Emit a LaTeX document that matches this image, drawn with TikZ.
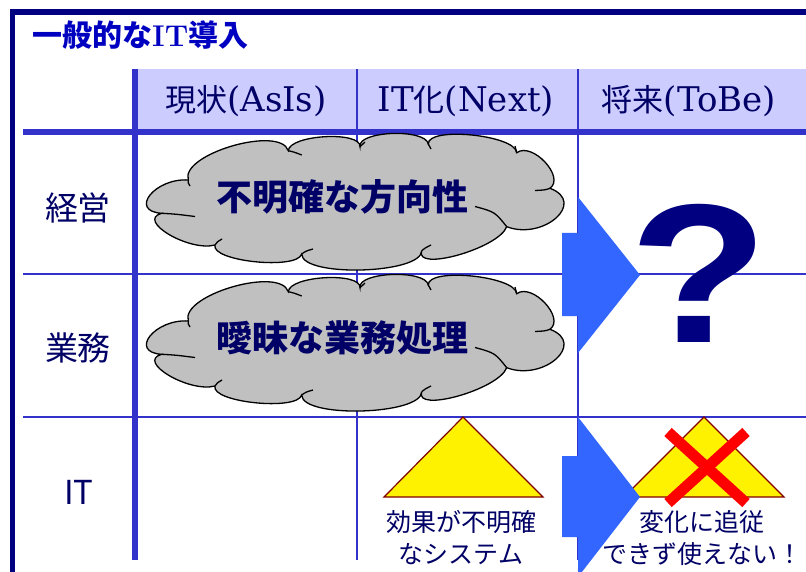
\documentclass[tikz,border=0pt]{standalone}
\usepackage{fontspec}
\setmainfont{Latin Modern Roman}
\newfontfamily\cjk{Noto Sans CJK JP}
\newfontfamily\arialb{Liberation Sans}
\newfontfamily\wideserif{DejaVu Serif}
\definecolor{frameblue}{HTML}{000080}
\definecolor{gridblue}{HTML}{3333CC}
\definecolor{headfill}{HTML}{CCCCFF}
\definecolor{titleblue}{HTML}{0000C0}
\definecolor{navytext}{HTML}{000066}
\definecolor{arrowblue}{HTML}{3366FF}
\definecolor{clouddark}{HTML}{C0C0C0}
\definecolor{tribord}{HTML}{800000}
\newcommand\hcjk[1]{{\cjk\fontsize{31}{34}\selectfont #1}}
\tikzset{
  thickgrid/.style={draw=gridblue, line width=5.5pt},
  thingrid/.style={draw=gridblue, line width=2pt},
  headtext/.style={text=navytext, font=\wideserif\fontsize{34}{36}\selectfont, inner sep=0pt},
  rowtext/.style={text=navytext, font=\cjk\fontsize{33}{36}\selectfont, inner sep=0pt},
  cloudline/.style={draw=black, line width=1.3pt, fill=clouddark},
  cloudtail/.style={draw=black, line width=1.3pt},
  cloudtext/.style={text=navytext, font=\cjk\bfseries\fontsize{36}{38}\selectfont, inner sep=0pt},
  bigarrow/.style={fill=arrowblue, draw=none},
  pyramid/.style={fill=yellow, draw=tribord, line width=1.2pt, line join=miter},
  smalltext/.style={text=navytext, font=\cjk\fontsize{25}{32}\selectfont, align=center, inner sep=0pt},
  cross/.style={draw=red, line width=11pt}
}
\def\mycloudshape{%
  \draw[cloudline] (188.3,180)
    .. controls (179.9,154.2) and (279.9,124.9) .. (288.3,150.7)
    .. controls (289.4,134.7) and (361.1,130.7) .. (360,146.7)
    .. controls (357.1,130.9) and (425.4,128.2) .. (428.3,144)
    .. controls (427.2,126.2) and (515.6,134.9) .. (516.7,152.7)
    .. controls (532.2,141.4) and (565.5,177) .. (550,188.3)
    .. controls (586.9,202.3) and (543.6,240.7) .. (506.7,226.7)
    .. controls (498.8,248.4) and (413.8,272.4) .. (421.7,250.7)
    .. controls (421.7,274.2) and (301.7,277.5) .. (301.7,254)
    .. controls (297.2,270.3) and (210.5,261.3) .. (215,245)
    .. controls (189,252) and (135.7,220.3) .. (161.7,213.3)
    .. controls (128.4,211.1) and (155,177.8) .. (188.3,180) -- cycle;
  \draw[cloudtail] (161.7,213.3) .. controls (175,214) .. (195,216.5);
  \draw[cloudtail] (215,245) .. controls (217,242) .. (222,239);
  \draw[cloudtail] (301.7,254) .. controls (306,251) .. (313,249);
  \draw[cloudtail] (421.7,250.7) .. controls (425,248) .. (431,245);
  \draw[cloudtail] (506.7,226.7) .. controls (495,212) .. (475,206.5);
  \draw[cloudtail] (550,188.3) .. controls (545,190) .. (535,190.5);
  \draw[cloudtail] (516.7,152.7) .. controls (516.5,149) .. (515,146);
  \draw[cloudtail] (428.3,144) .. controls (429.5,147) .. (431,149);
  \draw[cloudtail] (360,146.7) .. controls (362,144) .. (365,142);
  \draw[cloudtail] (288.3,150.7) .. controls (294,152) .. (301.7,155);
  \draw[cloudtail] (188.3,180) .. controls (188,183) .. (190,186);
}
\begin{document}
\begin{tikzpicture}[x=1pt,y=-1pt]
\useasboundingbox (0,0) rectangle (806,572);
\fill[white] (0,0) rectangle (806,572);
% header fill
\fill[headfill] (137,69) rectangle (806,129);
% grid
\coordinate (hl0) at (23,132); \coordinate (hr0) at (806,132);
\coordinate (hl1) at (23,274); \coordinate (hr1) at (806,274);
\coordinate (hl2) at (23,417); \coordinate (hr2) at (806,417);
\coordinate (vt0) at (135,69); \coordinate (vb0) at (135,560);
\coordinate (vt1) at (357,69); \coordinate (vb1) at (357,560);
\coordinate (vt2) at (578,69); \coordinate (vb2) at (578,560);
\draw[thingrid] (hl1) -- (hr1);
\draw[thingrid] (hl2) -- (hr2);
\draw[thingrid] (vt1) -- (vb1);
\draw[thingrid] (vt2) -- (vb2);
\draw[thickgrid] (hl0) -- (hr0);
\draw[thickgrid] (vt0) -- (vb0);
% outer frame
\coordinate (ft) at (806,12); \coordinate (fb) at (12.5,572);
\draw[frameblue, line width=5.5pt] (ft) -- (9.5,12);
\draw[frameblue, line width=5pt] (12.5,9) -- (fb);
% title
\node[anchor=west, inner sep=0pt, text=titleblue, font=\bfseries\fontsize{30}{32}\selectfont] (title) at (32,35) {{\cjk 一般的な}IT{\cjk 導入}};
% headers
\node[headtext] (h1) at (246,101) {\hcjk{現状}(AsIs)};
\node[headtext] (h2) at (466,101) {IT\hcjk{化}(Next)};
\node[headtext] (h3) at (689,101) {\hcjk{将来}(ToBe)};
% row labels
\node[rowtext] (r1) at (78,208) {経営};
\node[rowtext] (r2) at (78,348) {業務};
\node[rowtext] (r3) at (79,492) {IT};
% clouds
\mycloudshape
\node[cloudtext] (t1) at (342,197) {不明確な方向性};
\begin{scope}[shift={(0,141)}]
\mycloudshape
\end{scope}
\node[cloudtext] (t2) at (342,338) {曖昧な業務処理};
% pyramids
\draw[pyramid] (463,417) -- (543,497) -- (384,497) -- cycle;
\draw[pyramid] (704,417) -- (784,497) -- (624,497) -- cycle;
% arrows
\fill[bigarrow] (562,233) -- (578,233) -- (578,197) -- (640,275) -- (578,353) -- (578,316) -- (562,316) -- cycle;
\fill[bigarrow] (562,456) -- (578,456) -- (578,417) -- (640,497) -- (578,577) -- (578,537) -- (562,537) -- cycle;
% question mark
\node[anchor=base, inner sep=0pt, text=frameblue, font=\arialb\bfseries\fontsize{198}{200}\selectfont] (q) at (699,342) {\scalebox{1.15}[1]{?}};
% cross
\draw[cross] (668,432) -- (746,503);
\draw[cross] (746,432) -- (668,503);
% bottom texts
\node[smalltext] (b1) at (461,538) {効果が不明確\\なシステム};
\node[smalltext] (b2) at (702,538) {変化に追従\\できず使えない！};
\end{tikzpicture}
\end{document}
